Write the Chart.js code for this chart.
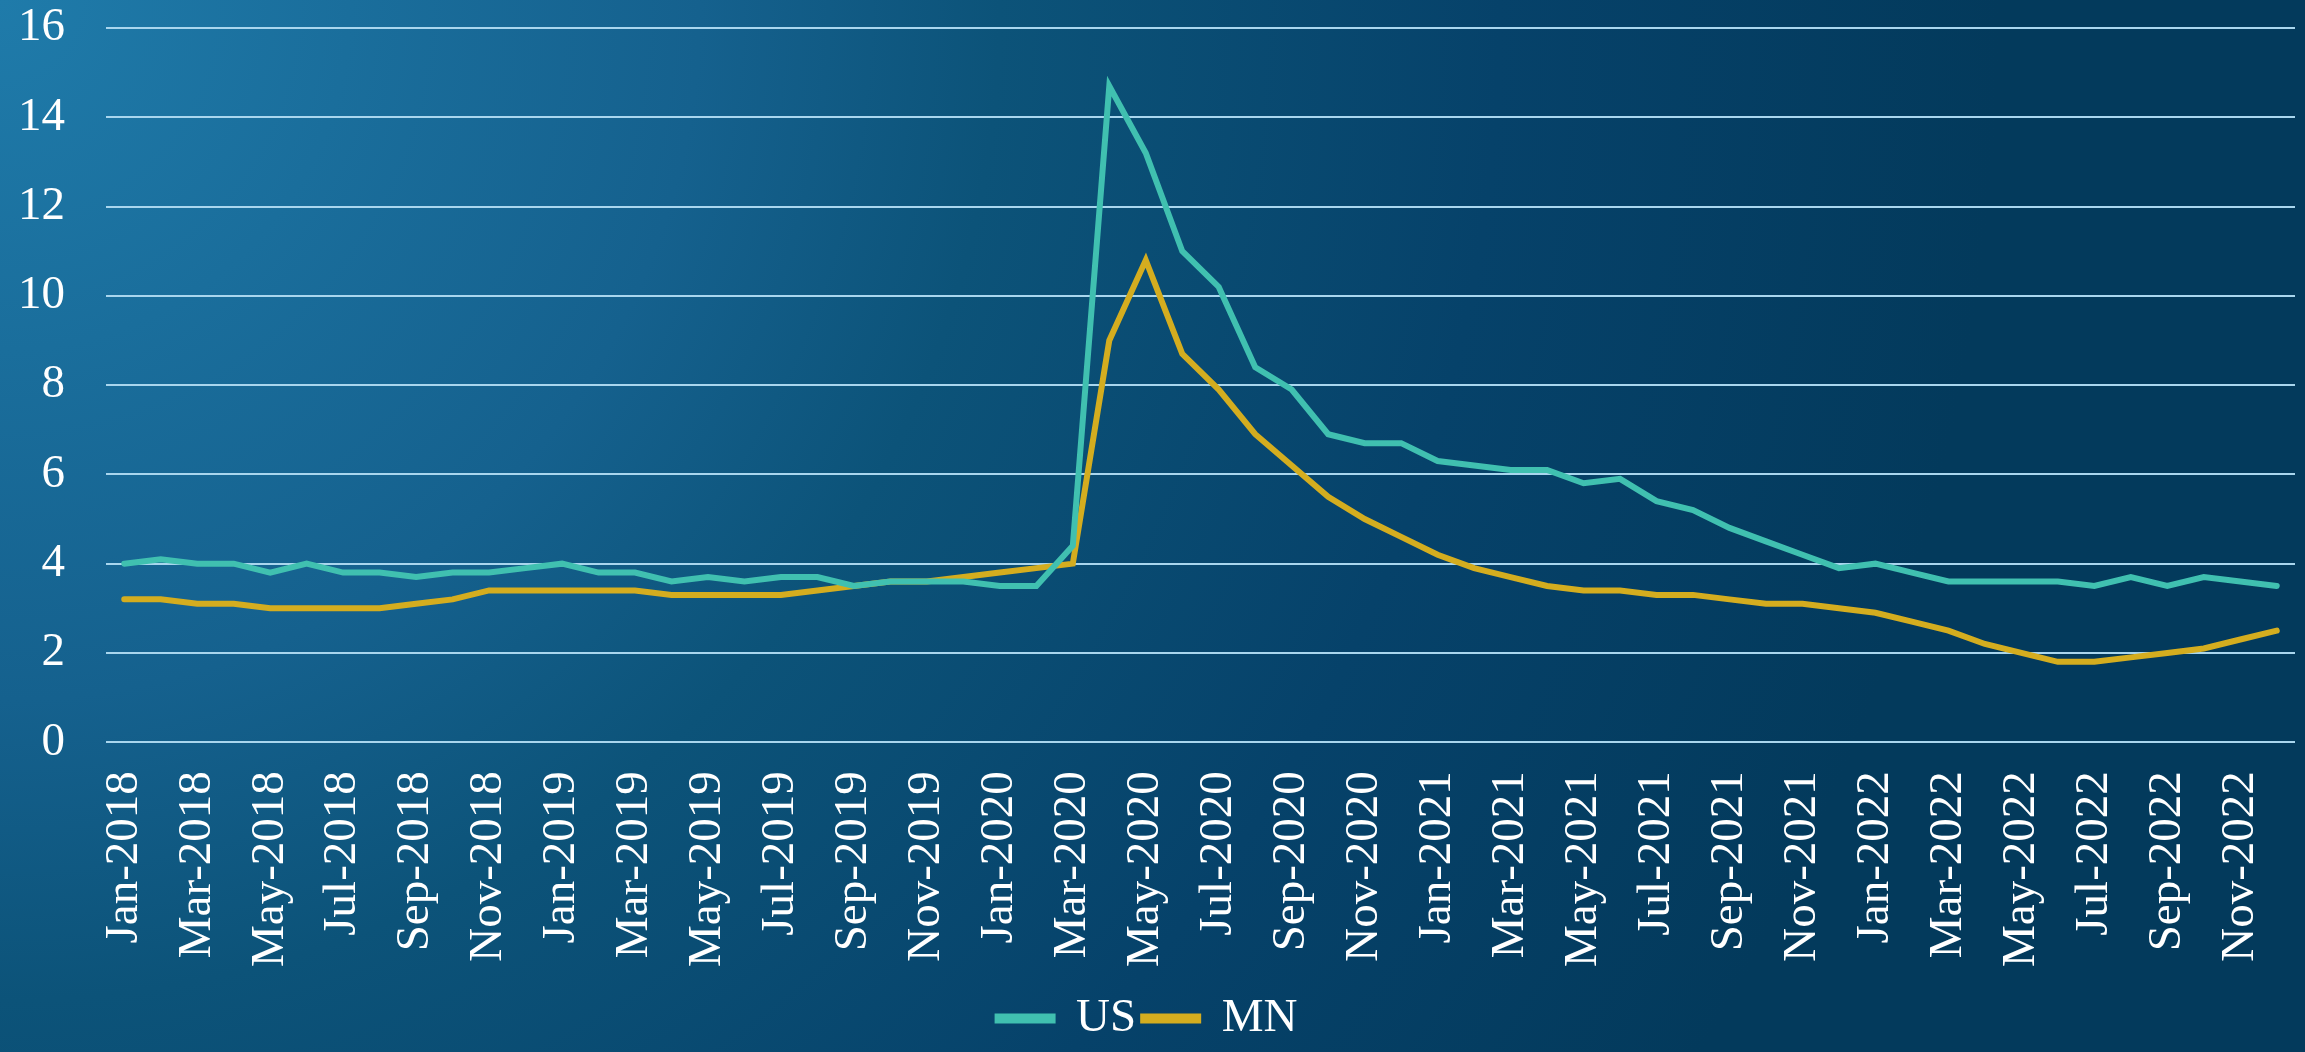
<!DOCTYPE html>
<html>
<head>
<meta charset="utf-8">
<script src="https://cdn.jsdelivr.net/npm/chart.js@4.4.1/dist/chart.umd.min.js"></script>
<style>
  html, body { margin: 0; padding: 0; }
  body {
    width: 2305px; height: 1052px; overflow: hidden;
    background: radial-gradient(circle at 0 0, #1f7baa 0px, #15618e 700px, #0c5379 1000px, #06426a 1500px, #033a5c 2000px);
  }
  #wrap { width: 2305px; height: 1052px; position: relative; }
</style>
</head>
<body>
<div id="wrap"><canvas id="chart"></canvas></div>
<script>
// monthly labels, Jan 2018 .. Dec 2022
const months = ['Jan','Feb','Mar','Apr','May','Jun','Jul','Aug','Sep','Oct','Nov','Dec'];
const years = [2018, 2019, 2020, 2021, 2022];
const labels = [];
years.forEach(y => months.forEach(m => labels.push(m + '-' + y)));

// unemployment rate (%)
const usValues = [
  4.0, 4.1, 4.0, 4.0, 3.8, 4.0, 3.8, 3.8, 3.7, 3.8, 3.8, 3.9,
  4.0, 3.8, 3.8, 3.6, 3.7, 3.6, 3.7, 3.7, 3.5, 3.6, 3.6, 3.6,
  3.5, 3.5, 4.4, 14.7, 13.2, 11.0, 10.2, 8.4, 7.9, 6.9, 6.7, 6.7,
  6.3, 6.2, 6.1, 6.1, 5.8, 5.9, 5.4, 5.2, 4.8, 4.5, 4.2, 3.9,
  4.0, 3.8, 3.6, 3.6, 3.6, 3.6, 3.5, 3.7, 3.5, 3.7, 3.6, 3.5
];
const mnValues = [
  3.2, 3.2, 3.1, 3.1, 3.0, 3.0, 3.0, 3.0, 3.1, 3.2, 3.4, 3.4,
  3.4, 3.4, 3.4, 3.3, 3.3, 3.3, 3.3, 3.4, 3.5, 3.6, 3.6, 3.7,
  3.8, 3.9, 4.0, 9.0, 10.8, 8.7, 7.9, 6.9, 6.2, 5.5, 5.0, 4.6,
  4.2, 3.9, 3.7, 3.5, 3.4, 3.4, 3.3, 3.3, 3.2, 3.1, 3.1, 3.0,
  2.9, 2.7, 2.5, 2.2, 2.0, 1.8, 1.8, 1.9, 2.0, 2.1, 2.3, 2.5
];
const yTicks = [0, 2, 4, 6, 8, 10, 12, 14, 16];

const serif = "'Liberation Serif', 'Times New Roman', serif";

new Chart(document.getElementById('chart').getContext('2d'), {
  type: 'line',
  data: {
    labels: labels,
    datasets: [
      {
        label: 'US',
        data: usValues,
        borderColor: '#40c0b0',
        backgroundColor: '#40c0b0',
        borderWidth: 6,
        pointRadius: 0,
        tension: 0,
        borderCapStyle: 'round'
      },
      {
        label: 'MN',
        data: mnValues,
        borderColor: '#d4ad1f',
        backgroundColor: '#d4ad1f',
        borderWidth: 6,
        pointRadius: 0,
        tension: 0,
        borderCapStyle: 'round'
      }
    ]
  },
  options: {
    responsive: true,
    maintainAspectRatio: false,
    animation: false,
    layout: { padding: { top: 28, right: 10, left: 0, bottom: 0 } },
    plugins: {
      legend: {
        position: 'bottom',
        labels: {
          color: '#ffffff',
          font: { family: serif, size: 47 },
          boxWidth: 55,
          boxHeight: 4,
          padding: 7
        }
      },
      tooltip: { enabled: false }
    },
    scales: {
      x: {
        offset: true,
        grid: { display: false },
        border: { display: false },
        ticks: {
          color: '#ffffff',
          font: { family: serif, size: 47 },
          autoSkip: false,
          maxRotation: 90,
          minRotation: 90,
          padding: 21,
          callback: (v, i) => (i % 2 === 0 ? labels[i] : '')
        },
        afterFit: axis => { axis.paddingLeft = 0; axis.paddingRight = 0; }
      },
      y: {
        min: 0,
        max: 16,
        afterBuildTicks: axis => { axis.ticks = yTicks.map(v => ({ value: v })); },
        grid: { color: '#a9d6ee', lineWidth: 2, drawTicks: false },
        border: { display: false },
        ticks: {
          color: '#ffffff',
          font: { family: serif, size: 47 },
          padding: 41
        },
        afterFit: axis => { axis.width = 106; axis.paddingTop = 0; axis.paddingBottom = 0; }
      }
    }
  }
});
</script>
</body>
</html>
